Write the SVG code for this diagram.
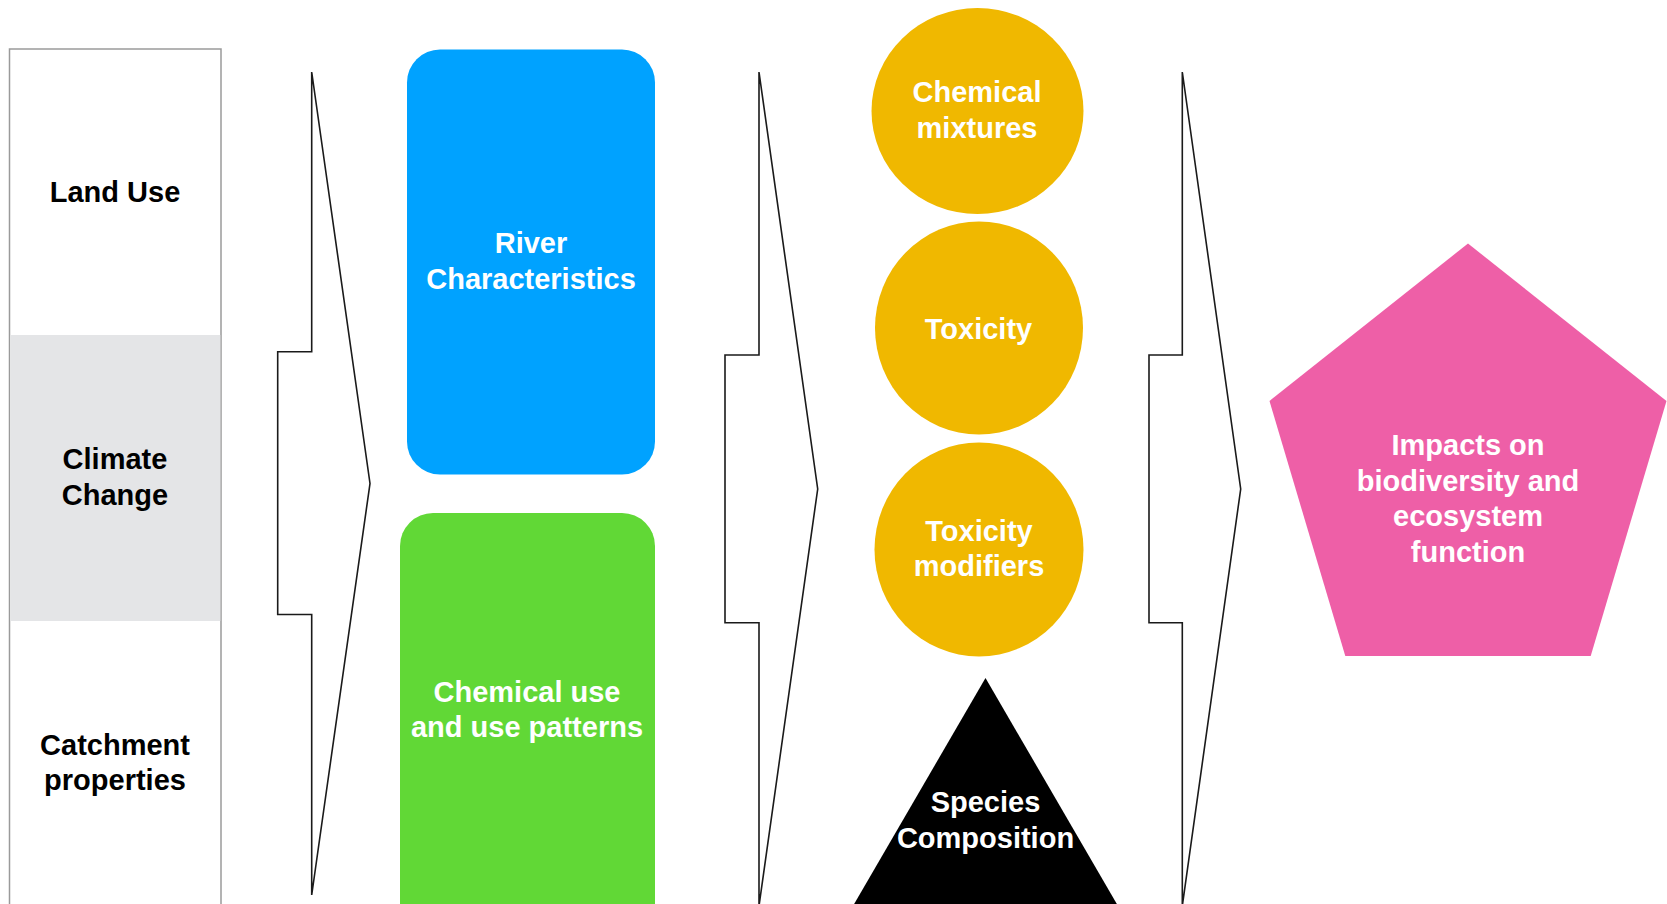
<svg xmlns="http://www.w3.org/2000/svg" width="1667" height="904" viewBox="0 0 1667 904">
<style>
text{font-family:"Liberation Sans",Arial,Helvetica,sans-serif;font-weight:bold;font-size:29px;text-anchor:middle}
.w{fill:#ffffff}
.k{fill:#000000}
.chev{fill:#ffffff;stroke:#1a1a1a;stroke-width:1.6;stroke-linejoin:miter}
</style>
<rect width="1667" height="904" fill="#ffffff"/>
<g id="drivers">
<rect x="9.5" y="49" width="211.5" height="870" fill="#ffffff" stroke="#9a9a9a" stroke-width="1.5"/>
<rect x="10.3" y="335" width="210" height="286" fill="#e4e5e7"/>
</g>
<g id="land-use"><text class="k" x="115" y="202">Land Use</text></g>
<g id="climate-change"><text class="k" x="115" y="469">Climate</text><text class="k" x="115" y="505">Change</text></g>
<g id="catchment"><text class="k" x="115" y="755">Catchment</text><text class="k" x="115" y="790">properties</text></g>
<g id="connectors">
<polygon class="chev" points="311.7,72 370,483.5 311.7,895 311.7,614.5 277.7,614.5 277.7,351.7 311.7,351.7"/>
<polygon class="chev" points="759,72 817.7,489 759,906 759,622.7 725,622.7 725,355 759,355"/>
<polygon class="chev" points="1182.3,72 1240.7,489 1182.3,906 1182.3,622.7 1149,622.7 1149,355 1182.3,355"/>
</g>
<g id="river">
<rect x="407" y="49.5" width="248" height="425" rx="33" fill="#00a2ff"/>
<text class="w" x="531" y="253">River</text><text class="w" x="531" y="289">Characteristics</text>
</g>
<g id="chemical-use">
<rect x="400" y="513" width="255" height="430" rx="33" fill="#61d836"/>
<text class="w" x="527" y="702">Chemical use</text><text class="w" x="527" y="737">and use patterns</text>
</g>
<g id="mixtures">
<ellipse cx="977.5" cy="111" rx="106" ry="103" fill="#f0b800"/>
<text class="w" x="977" y="102">Chemical</text><text class="w" x="977" y="138">mixtures</text>
</g>
<g id="toxicity">
<ellipse cx="979" cy="328" rx="104" ry="106.5" fill="#f0b800"/>
<text class="w" x="978.5" y="338.5">Toxicity</text>
</g>
<g id="modifiers">
<ellipse cx="979" cy="549.5" rx="104.5" ry="107" fill="#f0b800"/>
<text class="w" x="979" y="540.5">Toxicity</text><text class="w" x="979" y="576">modifiers</text>
</g>
<g id="species">
<polygon points="985.5,678 1125,918 846,918" fill="#000000"/>
<text class="w" x="985.5" y="811.5">Species</text><text class="w" x="985.5" y="848">Composition</text>
</g>
<g id="impacts">
<polygon points="1468,243.5 1666.5,401 1590.7,656 1345.3,656 1269.5,401" fill="#ee5fa7"/>
<text class="w" x="1468" y="455">Impacts on</text><text class="w" x="1468" y="490.5">biodiversity and</text><text class="w" x="1468" y="526">ecosystem</text><text class="w" x="1468" y="561.5">function</text>
</g>
</svg>
